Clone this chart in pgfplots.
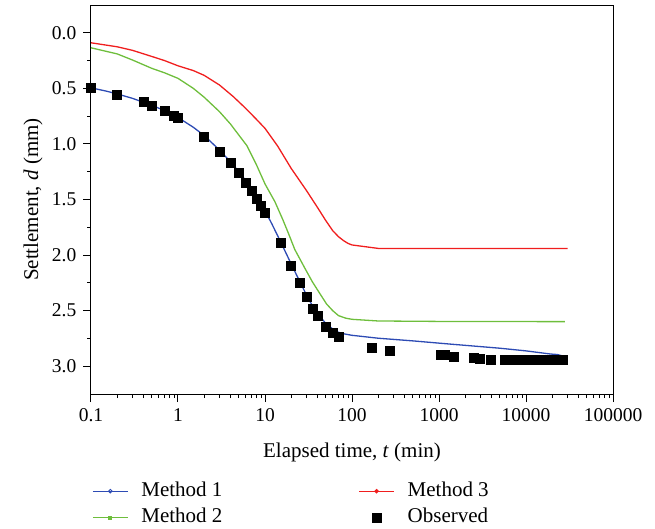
\documentclass[border=0pt]{standalone}
\usepackage{fontspec}
\setmainfont{Liberation Serif}
\usepackage{pgfplots}
\pgfplotsset{compat=1.18}
\definecolor{mblue}{RGB}{45,75,180}
\definecolor{mred}{RGB}{240,30,30}
\definecolor{mgreen}{RGB}{110,190,60}
\newcommand{\cf}{\fontsize{19.5}{23}\selectfont}
\newcommand{\lf}{\fontsize{21}{25}\selectfont}
\begin{document}
\cf
\begin{tikzpicture}
\begin{axis}[
  name=ax,
  scale only axis, width=522pt, height=389pt,
  xmode=log, xmin=0.1, xmax=100000,
  ymin=-0.25, ymax=3.25, y dir=reverse,
  xtick={0.1,1,10,100,1000,10000,100000},
  xticklabels={0.1,1,10,100,1000,10000,100000},
  minor xtick={0.2,0.3,0.4,0.5,0.6,0.7,0.8,0.9,2,3,4,5,6,7,8,9,20,30,40,50,60,70,80,90,200,300,400,500,600,700,800,900,2000,3000,4000,5000,6000,7000,8000,9000,20000,30000,40000,50000,60000,70000,80000,90000},
  ytick={0,0.5,1,1.5,2,2.5,3},
  yticklabels={0.0,0.5,1.0,1.5,2.0,2.5,3.0},
  minor ytick={0.25,0.75,1.25,1.75,2.25,2.75},
  tick align=outside, xtick pos=bottom, ytick pos=left,
  major tick length=8pt, minor tick length=4pt,
  tick style={black, line width=1pt},
  axis line style={black, line width=1pt},
  ticklabel style={font=\cf},
  xlabel={Elapsed time, \textit{t} (min)},
  ylabel={Settlement, \textit{d} (mm)},
  xlabel style={font=\lf, at={(axis description cs:0.5,0)}, anchor=base, yshift=-63pt},
  ylabel style={font=\lf, at={(axis description cs:-0.111,0.5)}, anchor=center},
  legend columns=2,
  legend cell align=left,
  legend style={at={(axis description cs:0,0)}, anchor=north west, xshift=1pt, yshift=-88pt,
    draw=none, fill=none, inner sep=0pt, font=\lf, row sep=8.5pt,
    nodes={inner sep=0pt, text height=14pt, text depth=4pt},
    /tikz/every odd column/.append style={column sep=13pt},
    /tikz/every even column/.append style={column sep=136pt}},
]
\addplot[mblue, line width=1.3pt, mark=none,
  legend image code/.code={\draw[mblue, line width=1.2pt, mark=o, mark size=1.8pt, mark options={fill=white, line width=0.9pt}, mark repeat=2, mark phase=2] plot coordinates {(0pt,0pt) (17.5pt,0pt) (35pt,0pt)};}]
coordinates {(0.1,0.495)(0.15,0.525)(0.2,0.55)(0.3,0.59)(0.4,0.625)(0.5,0.652)(0.7,0.70)(1,0.762)(1.5,0.85)(2,0.925)(3,1.055)(4,1.16)(5,1.25)(6,1.33)(7,1.405)(8,1.475)(10,1.60)(12,1.72)(15,1.875)(20,2.08)(25,2.235)(30,2.36)(35,2.455)(40,2.525)(50,2.615)(60,2.665)(70,2.695)(80,2.708)(100,2.722)(200,2.748)(500,2.772)(1300,2.80)(5000,2.838)(10000,2.862)(19000,2.89)(23000,2.895)(30000,2.92)};
\addlegendentry{Method 1}
\addplot[mred, line width=1.3pt, mark=none,
  legend image code/.code={\draw[mred, line width=1.2pt, mark=*, mark size=1.6pt, mark repeat=2, mark phase=2] plot coordinates {(0pt,0pt) (17.5pt,0pt) (35pt,0pt)};}]
coordinates {(0.1,0.09)(0.2,0.126)(0.3,0.158)(0.5,0.213)(0.7,0.25)(1,0.297)(1.5,0.34)(2,0.383)(3,0.47)(4.33,0.575)(6,0.68)(8,0.78)(10,0.86)(14,1.02)(20,1.22)(25,1.33)(30,1.42)(40,1.57)(50,1.69)(60,1.78)(70,1.835)(80,1.87)(90,1.895)(100,1.909)(200,1.94)(30000,1.94)};
\addlegendentry{Method 3}
\addplot[mgreen, line width=1.3pt, mark=none,
  legend image code/.code={\draw[mgreen, line width=1.2pt, mark=square*, mark size=1.6pt, mark repeat=2, mark phase=2] plot coordinates {(0pt,0pt) (17.5pt,0pt) (35pt,0pt)};}]
coordinates {(0.1,0.135)(0.2,0.19)(0.3,0.245)(0.5,0.32)(0.7,0.36)(1,0.41)(1.5,0.50)(2,0.58)(3,0.71)(4,0.82)(5,0.92)(6.2,1.016)(8,1.19)(10,1.36)(13,1.52)(16,1.68)(18.5,1.80)(22,1.95)(28.8,2.12)(35,2.24)(43,2.35)(51,2.44)(60,2.50)(70,2.545)(85,2.568)(100,2.578)(200,2.593)(1000,2.597)(28000,2.599)};
\addlegendentry{Method 2}
\addplot[only marks, mark=square*, mark size=4.5pt, black,
  legend image code/.code={\draw[black, only marks, mark=square*, mark size=4.5pt, mark repeat=2, mark phase=2] plot coordinates {(0pt,0pt) (17.5pt,0pt) (35pt,0pt)};}]
coordinates {(0.1,0.494)(0.2,0.554)(0.4,0.62)(0.5,0.653)(0.7,0.698)(0.9,0.743)(1.0,0.767)(2,0.935)(3,1.073)(4,1.169)(5,1.262)(6,1.346)(7,1.418)(8,1.49)(9,1.555)(10,1.615)(15,1.888)(20,2.092)(25,2.251)(30,2.377)(35,2.482)(40,2.548)(50,2.641)(60,2.698)(70,2.734)(170,2.83)(270,2.856)(1050,2.898)(1150,2.898)(1490,2.91)(2480,2.92)(2960,2.93)(3930,2.937)(5700,2.94)(6500,2.94)(7500,2.94)(8500,2.94)(9500,2.94)(10500,2.94)(11500,2.94)(12500,2.94)(13500,2.94)(15000,2.94)(16500,2.94)(18000,2.94)(20000,2.94)(22000,2.94)(24000,2.94)(26500,2.94)};
\addlegendentry{Observed}
\end{axis}
\pgfresetboundingbox
\path[use as bounding box] (-91pt,-135pt) rectangle (564pt,394pt);
\end{tikzpicture}
\end{document}
